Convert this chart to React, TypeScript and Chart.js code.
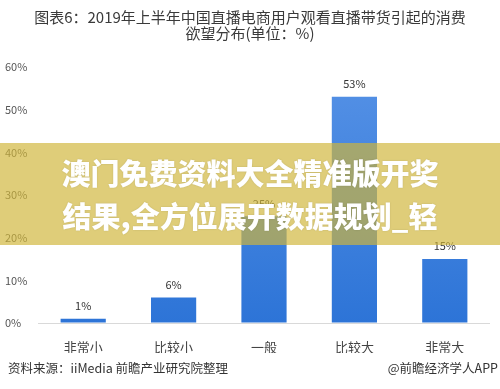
import React, { useEffect, useRef } from "react";
import { Chart, registerables } from "chart.js";

Chart.register(...registerables);

const categories = ["非常小", "比较小", "一般", "比较大", "非常大"];
const values = [1, 6, 25, 53, 15];
const yTicks = [0, 10, 20, 30, 40, 50, 60];
const titleLines = ["图表6：2019年上半年中国直播电商用户观看直播带货引起的消费", "欲望分布(单位：%)"];
const sourceText = "资料来源：iiMedia 前瞻产业研究院整理";
const brandText = "@前瞻经济学人APP";
const overlayLines = ["澳门免费资料大全精准版开奖", "结果,全方位展开数据规划_轻"];

const FONT = "'Noto Sans CJK SC', 'Noto Sans', sans-serif";

const decorPlugin = {
  id: "decor",
  afterDatasetsDraw(chart: any) {
    const ctx = chart.ctx;
    const meta = chart.getDatasetMeta(0);
    ctx.save();
    ctx.fillStyle = "#333";
    ctx.font = `11px ${FONT}`;
    ctx.textAlign = "center";
    ctx.textBaseline = "middle";
    meta.data.forEach((bar: any, i: number) => {
      ctx.fillText(values[i] + "%", bar.x, bar.y - 13);
    });
    ctx.restore();
  },
  afterDraw(chart: any) {
    const ctx = chart.ctx;
    const w = chart.width;
    ctx.save();
    // title
    ctx.fillStyle = "#3a3a3a";
    ctx.font = `15px ${FONT}`;
    ctx.textAlign = "center";
    ctx.textBaseline = "middle";
    ctx.fillText(titleLines[0], w / 2, 17);
    ctx.fillText(titleLines[1], w / 2, 33);
    // footer
    ctx.font = `12.5px ${FONT}`;
    ctx.fillStyle = "#333";
    ctx.textAlign = "left";
    ctx.fillText(sourceText, 8, 368);
    ctx.textAlign = "right";
    ctx.fillText(brandText, 498, 368);
    // overlay band
    ctx.fillStyle = "rgba(208,181,58,0.68)";
    ctx.fillRect(0, 143, w, 102);
    ctx.fillStyle = "#ffffff";
    ctx.font = `900 29px ${FONT}`;
    ctx.textAlign = "center";
    ctx.shadowColor = "rgba(0,0,0,0.15)";
    ctx.shadowBlur = 2;
    ctx.fillText(overlayLines[0], 250, 174);
    ctx.fillText(overlayLines[1], 250, 217);
    ctx.restore();
  },
};

export default function App() {
  const ref = useRef<HTMLCanvasElement>(null);
  useEffect(() => {
    const canvas = ref.current!;
    const chart = new Chart(canvas, {
      type: "bar",
      data: {
        labels: categories,
        datasets: [
          {
            data: values,
            backgroundColor: (c: any) => {
              const area = c.chart.chartArea;
              if (!area) return "#3a80dc";
              const g = c.chart.ctx.createLinearGradient(0, area.top, 0, area.bottom);
              g.addColorStop(0, "#5692e6");
              g.addColorStop(1, "#2d74d7");
              return g;
            },
            barPercentage: 0.5,
            categoryPercentage: 1,
          },
        ],
      },
      options: {
        responsive: false,
        animation: false,
        layout: { padding: { top: 67, left: 5, right: 10, bottom: 36 } },
        plugins: {
          legend: { display: false },
          title: { display: false },
          tooltip: { enabled: false },
        },
        scales: {
          y: {
            min: 0,
            max: 60,
            afterBuildTicks: (s: any) => {
              s.ticks = yTicks.map((v) => ({ value: v }));
            },
            afterFit: (s: any) => {
              s.width = 33;
            },
            border: { display: false },
            grid: {
              color: (c: any) => (c.tick && c.tick.value === 0 ? "#d9d9d9" : "transparent"),
              drawTicks: false,
            },
            ticks: {
              crossAlign: "far",
              padding: 0,
              color: "#555",
              font: { family: FONT, size: 11 },
              callback: (v: any) => v + "%",
            },
          },
          x: {
            afterFit: (s: any) => {
              s.height = 30;
            },
            border: { display: false },
            grid: { display: false },
            ticks: {
              padding: 8,
              color: "#444",
              font: { family: FONT, size: 13 },
            },
          },
        },
      },
      plugins: [decorPlugin],
    });
    return () => chart.destroy();
  }, []);
  return (
    <div style={{ position: "fixed", left: 0, top: 0, width: 500, height: 389, background: "#fff" }}>
      <canvas ref={ref} width={500} height={389} />
    </div>
  );
}
